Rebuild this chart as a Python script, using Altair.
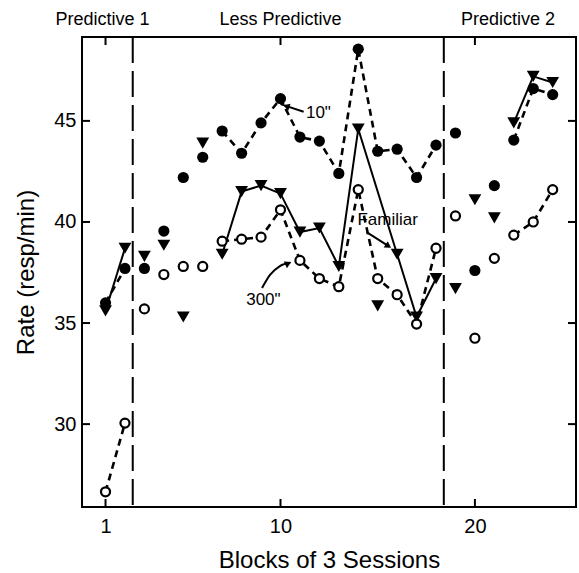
import altair as alt
import pandas as pd

# ---- data ----
blocks = list(range(1, 25))
rate_10 = [36.0, 37.7, 37.7, 39.55, 42.2, 43.2, 44.5, 43.4, 44.9, 46.1, 44.2, 44.0,
           42.4, 48.55, 43.5, 43.6, 42.2, 43.8, 44.4, 37.6, 41.8, 44.05, 46.6, 46.3]
rate_familiar = [35.6, 38.7, 38.3, 38.85, 35.3, 43.9, 38.4, 41.5, 41.8, 41.4, 39.5, 39.7,
                 37.8, 44.6, 35.85, 38.4, 35.3, 37.2, 36.7, 41.1, 40.2, 44.9, 47.2, 46.9]
rate_300 = [26.65, 30.05, 35.7, 37.4, 37.8, 37.8, 39.05, 39.15, 39.25, 40.6, 38.1, 37.2,
            36.8, 41.6, 37.2, 36.4, 34.95, 38.7, 40.3, 34.25, 38.2, 39.35, 40.0, 41.6]

# which blocks are joined by a line
segments_10 = [[1, 2], list(range(7, 19)), [22, 23, 24]]
segments_familiar = [[1, 2], list(range(7, 15)), [14, 16, 17, 18], [22, 23, 24]]
segments_300 = [[1, 2], list(range(7, 19)), [22, 23, 24]]

phase_bounds = [2.4, 18.4]
phase_labels = ["Predictive 1", "Less Predictive", "Predictive 2"]
phase_label_x = [0.85, 10.0, 21.7]

x_ticks = [1, 10, 20]
y_ticks = [30, 35, 40, 45]

# annotation labels and arrows (data units)
note_text = ['10"', '300"', 'Familiar']
note_x = [11.95, 9.12, 15.51]
note_y = [45.4, 36.14, 40.1]

arrow_id = ["a10", "a10", "a300", "a300", "a300", "a300", "afam", "afam"]
arrow_x = [11.19, 10.0, 9.05, 9.46, 9.97, 10.5, 14.43, 15.6]
arrow_y = [45.45, 45.83, 36.73, 37.38, 37.82, 37.98, 39.5, 38.78]
head_x = [10.3, 10.4, 15.55]
head_y = [45.72, 37.95, 38.81]
head_angle = [288, 65, 123]

W, H = 494, 470
xscale = alt.Scale(domain=[-0.21, 25.2], nice=False, zero=False)
yscale = alt.Scale(domain=[25.9, 49.15], nice=False, zero=False)
xaxis = alt.Axis(values=x_ticks, ticks=False, domain=False, grid=False, labelPadding=9,
                 title="Blocks of 3 Sessions", titleX=247, titleY=60,
                 titleBaseline="alphabetic", titleAlign="center")
yaxis = alt.Axis(values=y_ticks, ticks=False, domain=False, grid=False, labelPadding=6,
                 title="Rate (resp/min)", titleX=-49, titleY=235, titleAngle=270,
                 titleBaseline="alphabetic", titleAlign="center")


def X(f):
    return alt.X(f + ":Q", scale=xscale, axis=xaxis)


def Y(f):
    return alt.Y(f + ":Q", scale=yscale, axis=yaxis)


points = pd.DataFrame({"block": blocks, "r10": rate_10, "rfam": rate_familiar, "r300": rate_300})


def seg_rows(name, segs, vals):
    rows = []
    for i, seg in enumerate(segs):
        for k, b in enumerate(seg):
            rows.append({"series": name, "seg": f"{name}-{i}", "order": k,
                         "block": b, "rate": vals[b - 1]})
    return rows


dashed_df = pd.DataFrame(seg_rows("10", segments_10, rate_10) + seg_rows("300", segments_300, rate_300))
solid_df = pd.DataFrame(seg_rows("fam", segments_familiar, rate_familiar))

base = alt.Chart(points)

dashed_lines = alt.Chart(dashed_df).mark_line(color="black", strokeWidth=2.6, strokeDash=[7, 5]).encode(
    x=X("block"), y=Y("rate"), detail="seg:N", order="order:Q")
solid_lines = alt.Chart(solid_df).mark_line(color="black", strokeWidth=2).encode(
    x=X("block"), y=Y("rate"), detail="seg:N", order="order:Q")

tri = base.mark_point(shape="triangle-down", filled=True, color="black", size=165, opacity=1).encode(
    x=X("block"), y=Y("rfam"))
dots = base.mark_point(shape="circle", filled=True, color="black", size=125, opacity=1).encode(
    x=X("block"), y=Y("r10"))
rings = base.mark_point(shape="circle", filled=True, fill="white", stroke="black", strokeWidth=2.2,
                        size=82, opacity=1).encode(x=X("block"), y=Y("r300"))

phase_df = pd.DataFrame({"p": phase_bounds})
phase_lines = alt.Chart(phase_df).mark_rule(color="black", strokeWidth=2, strokeDash=[26, 8]).encode(x=X("p"))

plabel_df = pd.DataFrame({"lx": phase_label_x, "label": phase_labels})
phase_text = alt.Chart(plabel_df).mark_text(fontSize=18, baseline="alphabetic", align="center",
                                            font="Liberation Sans", color="black").encode(
    x=X("lx"), y=alt.value(-12), text="label:N")

xt_df = pd.DataFrame({"t": x_ticks})
yt_df = pd.DataFrame({"t": y_ticks})
tick_style = dict(color="black", strokeWidth=2)
xt_bottom = alt.Chart(xt_df).mark_rule(**tick_style).encode(x=X("t"), y=alt.value(H), y2=alt.value(H - 8))
xt_top = alt.Chart(xt_df).mark_rule(**tick_style).encode(x=X("t"), y=alt.value(0), y2=alt.value(8))
yt_left = alt.Chart(yt_df).mark_rule(**tick_style).encode(y=Y("t"), x=alt.value(0), x2=alt.value(8))
yt_right = alt.Chart(yt_df).mark_rule(**tick_style).encode(y=Y("t"), x=alt.value(W), x2=alt.value(W - 8))

note_df = pd.DataFrame({"nx": note_x, "ny": note_y, "txt": note_text})
notes = alt.Chart(note_df).mark_text(fontSize=17, font="Liberation Sans", color="black",
                                     baseline="middle", align="center").encode(
    x=X("nx"), y=Y("ny"), text="txt:N")

arrow_df = pd.DataFrame({"id": arrow_id, "ax": arrow_x, "ay": arrow_y, "o": list(range(len(arrow_x)))})
arrows = alt.Chart(arrow_df).mark_line(color="black", strokeWidth=2, interpolate="monotone").encode(
    x=X("ax"), y=Y("ay"), detail="id:N", order="o:Q")
head_df = pd.DataFrame({"hx": head_x, "hy": head_y, "ang": head_angle})
heads = alt.Chart(head_df).mark_point(shape="triangle-up", filled=True, color="black", size=55, opacity=1).encode(
    x=X("hx"), y=Y("hy"), angle=alt.Angle("ang:Q", scale=None))

chart = alt.layer(
    phase_lines, xt_bottom, xt_top, yt_left, yt_right,
    dashed_lines, solid_lines, arrows, heads,
    tri, dots, rings, notes, phase_text,
).properties(
    width=W, height=H,
    autosize=alt.AutoSizeParams(type="none"),
    padding={"left": 82, "top": 37, "right": 3, "bottom": 66},
).configure_view(
    stroke="black", strokeWidth=2
).configure_axis(
    labelFont="Liberation Sans", titleFont="Liberation Sans", labelFontSize=20, titleFontSize=24,
    labelColor="black", titleColor="black", titleFontWeight="normal"
)

chart.save("out.html", embed_options={"renderer": "svg", "actions": False})
